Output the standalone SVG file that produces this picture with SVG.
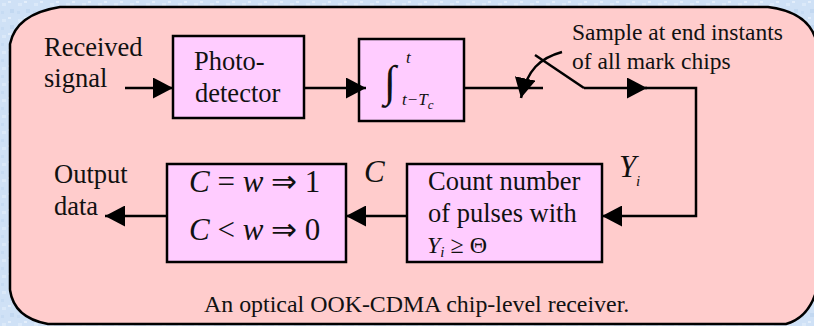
<svg xmlns="http://www.w3.org/2000/svg" width="814" height="326" viewBox="0 0 814 326">
<defs>
<style>
text{font-family:"Liberation Serif","Times New Roman",serif;fill:#111;}
.t{font-size:26.5px;}
.s{font-size:23.5px;}
.m{font-size:31px;}
.box{fill:#ffccff;stroke:#000;stroke-width:2.5;}
.ln{fill:none;stroke:#000;stroke-width:2.5;}
</style>
<marker id="ah" viewBox="0 0 20 21" refX="20" refY="10.5" markerWidth="20" markerHeight="21" markerUnits="userSpaceOnUse" orient="auto">
<path d="M0,0 L20,10.5 L0,21 Z" fill="#000"/>
</marker>
<pattern id="bgp" width="16" height="16" patternUnits="userSpaceOnUse">
<rect width="16" height="16" fill="#cfe1f6"/>
<rect x="2" y="3" width="4" height="3" fill="#dbe9f9"/>
<rect x="10" y="9" width="4" height="4" fill="#c2d8f1"/>
<rect x="8" y="1" width="3" height="2" fill="#e3eefb"/>
<rect x="1" y="11" width="3" height="3" fill="#c6dbf3"/>
</pattern>
</defs>
<rect width="814" height="326" fill="url(#bgp)"/>
<path d="M60,7 L768,7 Q808,12 816,40 L816,292 Q808,318 786,324 L48,324 Q14,318 10,290 L10,44 Q16,14 60,7 Z" fill="#ffcccc" stroke="#000" stroke-width="2.5"/>

<g id="input-label">
<text class="t" x="44" y="56">Received</text>
<text class="t" x="44" y="87">signal</text>
</g>
<g id="photodetector">
<rect class="box" x="173" y="36" width="131" height="82"/>
<text class="t" x="194" y="70">Photo-</text>
<text class="t" x="195" y="102">detector</text>
</g>
<g id="integrator">
<rect class="box" x="359" y="39" width="105" height="82"/>
<text x="384" y="96" style="font-size:44px">∫</text>
<text x="406" y="63" style="font-size:17px;font-style:italic">t</text>
<text x="402" y="105" style="font-size:17px;font-style:italic">t−T<tspan dy="4" style="font-size:13px">c</tspan></text>
</g>
<g id="sample-label">
<text class="s" x="572" y="40">Sample at end instants</text>
<text class="s" x="572" y="69">of all mark chips</text>
</g>
<g id="count">
<rect class="box" x="407" y="164" width="195" height="98"/>
<text class="t" x="428" y="190">Count number</text>
<text class="t" x="428" y="222">of pulses with</text>
<text x="427" y="253" style="font-size:24px"><tspan font-style="italic">Y</tspan><tspan dy="4" style="font-size:15px;font-style:italic">i</tspan><tspan dy="-4"> ≥ Θ</tspan></text>
</g>
<g id="decision">
<rect class="box" x="167" y="164" width="179" height="98"/>
<text class="m" x="189" y="192"><tspan font-style="italic">C</tspan> = <tspan font-style="italic">w</tspan> ⇒ 1</text>
<text class="m" x="189" y="240"><tspan font-style="italic">C</tspan> &lt; <tspan font-style="italic">w</tspan> ⇒ 0</text>
</g>
<g id="output-label">
<text class="t" x="54" y="183">Output</text>
<text class="t" x="54" y="215">data</text>
</g>
<g id="signal-labels">
<text class="m" x="364" y="182" font-style="italic">C</text>
<text class="m" x="619" y="177" font-style="italic">Y</text>
<text x="636" y="186" style="font-size:15px;font-style:italic">i</text>
</g>
<g id="caption">
<text x="204" y="312" style="font-size:23.9px">An optical OOK-CDMA chip-level receiver.</text>
</g>

<g id="connectors">
<line class="ln" x1="125" y1="88" x2="173" y2="88" marker-end="url(#ah)"/>
<line class="ln" x1="304" y1="88" x2="366" y2="88" marker-end="url(#ah)"/>
<line class="ln" x1="464" y1="88" x2="543" y2="88"/>
<line class="ln" x1="535" y1="55" x2="584" y2="88"/>
<path class="ln" d="M562,52 C540,58 527,70 521,98" marker-end="url(#ah)"/>
<line class="ln" x1="584" y1="88" x2="647" y2="88" marker-end="url(#ah)"/>
<polyline class="ln" points="645,88 696,88 696,216 602,216" marker-end="url(#ah)"/>
<line class="ln" x1="407" y1="216" x2="346" y2="216" marker-end="url(#ah)"/>
<line class="ln" x1="167" y1="216" x2="105" y2="216" marker-end="url(#ah)"/>
</g>
</svg>
